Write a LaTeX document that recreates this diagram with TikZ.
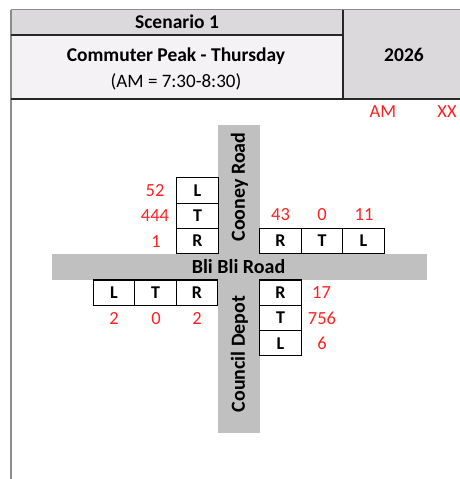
\documentclass[tikz,border=0pt]{standalone}
\usepackage{fontspec}
\setmainfont{Carlito}
\definecolor{hdrgray}{HTML}{DBD9DC}
\definecolor{hdrlight}{HTML}{F5F2F5}
\definecolor{roadgray}{HTML}{C0C0C0}
\definecolor{volred}{HTML}{FF2020}
\begin{document}
\begin{tikzpicture}[x=1pt,y=-1pt,
  lane/.style={draw=black, line width=1.1pt, minimum width=41.5pt, minimum height=25.3pt, inner sep=0pt, font=\fontsize{18}{20}\selectfont\bfseries},
  vol/.style={text=volred, inner sep=0pt, font=\fontsize{18.5}{20}\selectfont},
  roadbar/.style={fill=roadgray, draw=none, inner sep=0pt},
  roadlabel/.style={inner sep=0pt, font=\fontsize{20}{22}\selectfont\bfseries},
  hdrtext/.style={inner sep=0pt, font=\fontsize{19.5}{22}\selectfont\bfseries},
  hdrplain/.style={inner sep=0pt, font=\fontsize{19}{22}\selectfont}]
\useasboundingbox (0,0) rectangle (460,479);
% header
\fill[hdrgray] (11,10) rectangle (343,35);
\fill[hdrlight] (11,35) rectangle (343,99);
\fill[hdrgray] (343,10) rectangle (460,99);
\draw[black!45, line width=0.8pt] (11,9.5) -- (460,9.5);
\draw[black!45, line width=1.6pt] (11,9.5) -- (11,479);
\draw[black!85, line width=1.3pt] (11,35) -- (343,35);
\draw[black!85, line width=1.3pt] (11,99) -- (460,99);
\draw[black!85, line width=1.3pt] (343,10) -- (343,99);
\node[hdrtext] (scen) at (177,22) {Scenario 1};
\node[hdrtext] (peak) at (176,56) {Commuter Peak - Thursday};
\node[hdrplain] (time) at (176,82) {(AM = 7:30-8:30)};
\node[hdrtext] (year) at (404,55) {2026};
\node[vol] (am) at (383,112) {AM};
\node[vol] (xx) at (447,112) {XX};
% roads
\node[roadbar, minimum width=42pt, minimum height=308pt] (vroad) at (239,279) {};
\node[roadbar, minimum width=375pt, minimum height=26pt] (hroad) at (239.5,266.5) {};
\node[roadlabel, rotate=90] (cooney) at (239.5,187) {Cooney Road};
\node[roadlabel] (blibli) at (238.5,267) {Bli Bli Road};
\node[roadlabel, rotate=90] (council) at (239.5,354) {Council Depot};
% north approach
\node[lane] (nL) at (197.5,190.5) {L};
\node[lane] (nT) at (197.5,215.8) {T};
\node[lane] (nR) at (197.5,241.1) {R};
\node[vol] (nLv) at (155,190.5) {52};
\node[vol] (nTv) at (155,215.8) {444};
\node[vol] (nRv) at (156,241.1) {1};
% east approach
\node[lane] (eR) at (280.5,241.1) {R};
\node[lane] (eT) at (322,241.1) {T};
\node[lane] (eL) at (363.5,241.1) {L};
\node[vol] (eRv) at (280.5,215) {43};
\node[vol] (eTv) at (322,215) {0};
\node[vol] (eLv) at (364,215) {11};
% south approach
\node[lane] (sR) at (280.5,292.6) {R};
\node[lane] (sT) at (280.5,317.9) {T};
\node[lane] (sL) at (280.5,343.2) {L};
\node[vol] (sRv) at (321.5,292.6) {17};
\node[vol] (sTv) at (322,317.9) {756};
\node[vol] (sLv) at (322,343.2) {6};
% west approach
\node[lane] (wL) at (114,292.6) {L};
\node[lane] (wT) at (155.5,292.6) {T};
\node[lane] (wR) at (197,292.6) {R};
\node[vol] (wLv) at (114,318.5) {2};
\node[vol] (wTv) at (156,318.5) {0};
\node[vol] (wRv) at (197,318.5) {2};
\end{tikzpicture}
\end{document}
